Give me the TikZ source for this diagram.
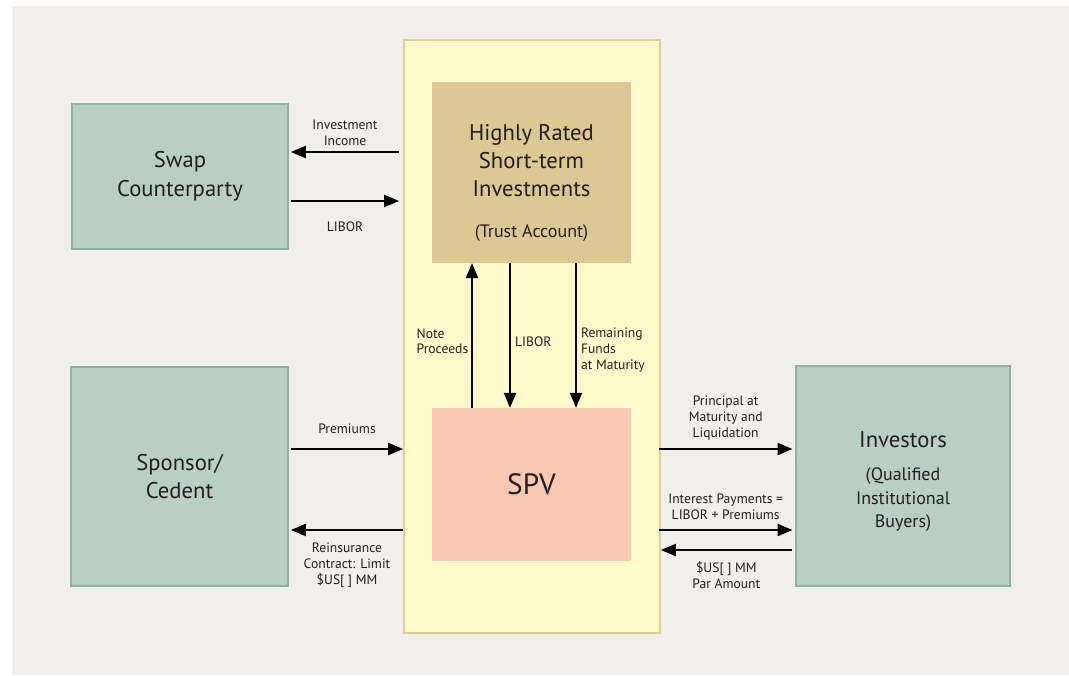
\documentclass[tikz,border=0pt]{standalone}
\usepackage{fontspec}
\setmainfont{PT Sans}
\usetikzlibrary{shapes,arrows}
\definecolor{bgcol}{RGB}{240,239,235}
\definecolor{partyfill}{RGB}{185,207,198}
\definecolor{partyline}{RGB}{143,179,163}
\definecolor{spvbg}{RGB}{255,249,204}
\definecolor{spvline}{RGB}{224,207,149}
\definecolor{trustfill}{RGB}{219,200,146}
\definecolor{spvfill}{RGB}{249,200,178}
\definecolor{ink}{RGB}{35,31,32}

\begin{document}
\begin{tikzpicture}[x=0.75pt,y=0.75pt,yscale=-1,xscale=1,
  party/.style={draw=partyline,fill=partyfill,line width=1.5pt,align=center,text=ink,font=\fontsize{17}{21.5}\selectfont},
  flow/.style={line width=1.6pt,-triangle 45,draw=black},
  lbl/.style={align=center,text=ink,font=\fontsize{10.2}{11.8}\selectfont,inner sep=1pt},
  big/.style={align=center,text=ink,font=\fontsize{17}{21}\selectfont},
  note/.style={align=center,text=ink,font=\fontsize{13.5}{17.6}\selectfont}]
%background and margins
\useasboundingbox (0,0) rectangle (1069,675);
\fill[white] (0,0) rectangle (1069,675);
\fill[bgcol] (12,6) rectangle (1069,675);

%boxes
\node[party, minimum width=162pt, minimum height=108.75pt] (swap) at (180,176.5) {Swap\\Counterparty};
\node[party, minimum width=162.75pt, minimum height=164.25pt] (sponsor) at (179.5,476.5) {Sponsor/\\Cedent};
\node[draw=partyline,fill=partyfill,line width=1.5pt, minimum width=160.5pt, minimum height=165pt] (investors) at (903,476) {};
\node[draw=spvline,fill=spvbg,line width=1.5pt, minimum width=192pt, minimum height=444.75pt] (outer) at (532,336.5) {};
\node[fill=trustfill, minimum width=149.25pt, minimum height=135.75pt] (trust) at (531.5,172.5) {};
\node[fill=spvfill, minimum width=149.25pt, minimum height=114.75pt, text=ink, font=\fontsize{22}{26}\selectfont] (spv) at (531.5,484.5) {SPV};

%box texts
\node[big] (trusttitle) at (531.5,161) {Highly Rated\\Short-term\\Investments};
\node[note] (trustnote) at (531.5,233) {(Trust Account)};
\node[big] (invtitle) at (903,440) {Investors};
\node[note] (invnote) at (903,500) {(Qualified\\Institutional\\Buyers)};

%swap counterparty flows
\draw[flow] ([xshift=-3pt]outer.west |- 0,152) -- ([xshift=1.5pt]swap.east |- 0,152)
  node[lbl, midway, above=3pt] (incomelbl) {Investment\\Income};
\draw[flow] ([xshift=1.5pt]swap.east |- 0,201) -- ([xshift=-3pt]outer.west |- 0,201)
  node[lbl, midway, below=14pt] (liborlbl) {LIBOR};

%trust account flows
\draw[flow] (spv.north -| 472,0) -- (trust.south -| 472,0)
  node[lbl, pos=0.46, left=1pt, align=left] (proceedslbl) {Note\\Proceeds};
\draw[flow] (trust.south -| 510,0) -- (spv.north -| 510,0)
  node[lbl, pos=0.54, right=2pt] (libor2lbl) {LIBOR};
\draw[flow] (trust.south -| 576,0) -- (spv.north -| 576,0)
  node[lbl, pos=0.6, right=2pt, align=left] (fundslbl) {Remaining\\Funds\\at Maturity};

%sponsor flows
\draw[flow] ([xshift=1.5pt]sponsor.east |- 0,449) -- (outer.west |- 0,449)
  node[lbl, midway, above=10pt] (premlbl) {Premiums};
\draw[flow] (outer.west |- 0,530) -- ([xshift=1.5pt]sponsor.east |- 0,530)
  node[lbl, midway, below=8pt] (reinslbl) {Reinsurance\\Contract: Limit\\\$US[ ] MM};

%investor flows
\draw[flow] ([xshift=-1.5pt]outer.east |- 0,449) -- ([xshift=-2pt]investors.west |- 0,449)
  node[lbl, midway, above=5pt] (principallbl) {Principal at\\Maturity and\\Liquidation};
\draw[flow] ([xshift=-1.5pt]outer.east |- 0,530) -- ([xshift=-2pt]investors.west |- 0,530)
  node[lbl, midway, above=6pt] (interestlbl) {Interest Payments =\\LIBOR + Premiums};
\draw[flow] ([xshift=-2.5pt]investors.west |- 0,550) -- (outer.east |- 0,550)
  node[lbl, midway, below=7pt] (parlbl) {\$US[ ] MM\\Par Amount};
\end{tikzpicture}
\end{document}
